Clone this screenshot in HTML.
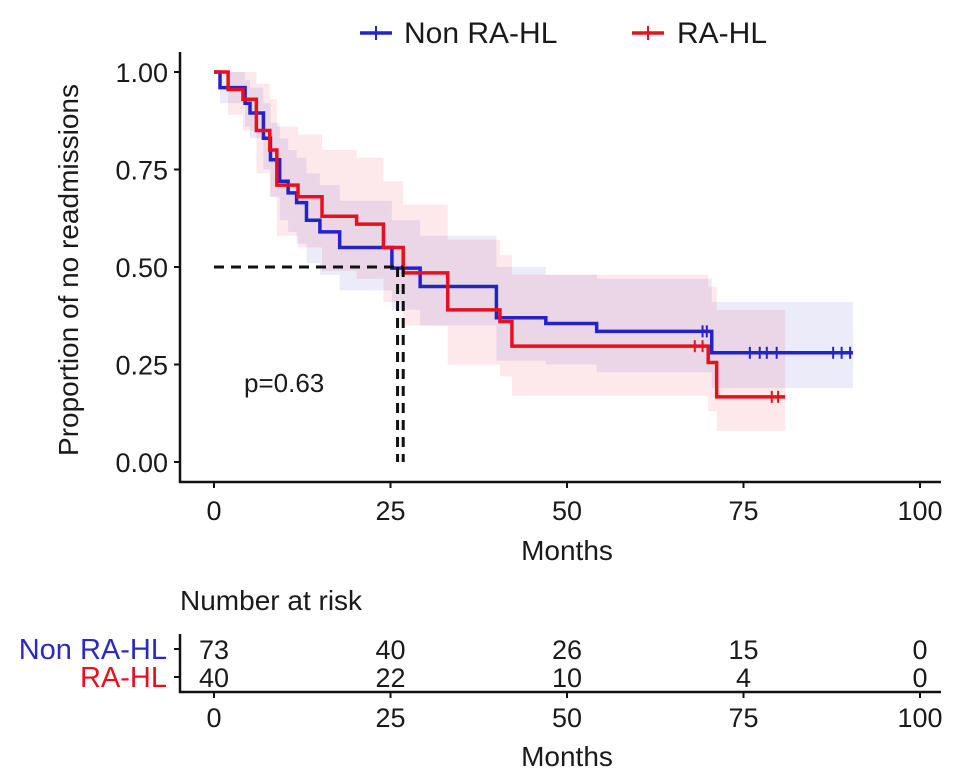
<!DOCTYPE html>
<html><head><meta charset="utf-8"><style>
body{margin:0;background:#fff}
svg{display:block;font-family:"Liberation Sans",sans-serif}
</style></head><body>
<svg id="chart" width="969" height="782" viewBox="0 0 969 782" xmlns="http://www.w3.org/2000/svg">
<g id="bands"></g>
<g id="curves"></g>
<g id="axes"></g>
<g>
 <g>
  <line x1="360" y1="33" x2="392" y2="33" stroke="#2323c8" stroke-width="3.5"/><line x1="376" y1="26" x2="376" y2="40" stroke="#2323c8" stroke-width="2"/>
  <text x="404" y="43" font-size="30" fill="#1a1a1a">Non RA-HL</text></g>
 <g>
  <line x1="632" y1="33" x2="664" y2="33" stroke="#e8101e" stroke-width="3.5"/><line x1="648" y1="26" x2="648" y2="40" stroke="#e8101e" stroke-width="2"/>
  <text x="677" y="43" font-size="30" fill="#1a1a1a">RA-HL</text></g>
</g>
<text x="244" y="392" font-size="26" fill="#1a1a1a">p=0.63</text>
<text transform="translate(78,270) rotate(-90)" text-anchor="middle" font-size="28" fill="#1a1a1a">Proportion of no readmissions</text>
<text x="567" y="560" text-anchor="middle" font-size="28" fill="#1a1a1a">Months</text>
<text x="180" y="610" font-size="28" fill="#1a1a1a">Number at risk</text>
<text x="167" y="659" text-anchor="end" font-size="29" fill="#2a2ac0">Non RA-HL</text>
<text x="167" y="687" text-anchor="end" font-size="29" fill="#e8101e">RA-HL</text>
<g id="risk"></g>
<text x="567" y="766" text-anchor="middle" font-size="28" fill="#1a1a1a">Months</text>
</svg>
<script>
const xTicks=[0,25,50,75,100];
const yTicks=[0,0.25,0.5,0.75,1];
const yTickLabels=["0.00","0.25","0.50","0.75","1.00"];
const blueT=[0,0.85,4.4,5.1,7,8,9.3,10.5,11.7,13.1,15,17.8,25.2,29.2,40,47,54.2,70.5];
const blueS=[1,.96,.92,.895,.83,.775,.72,.69,.665,.62,.59,.55,.497,.45,.37,.355,.335,.28];
const blueLo=[1,.92,.86,.83,.75,.68,.62,.59,.56,.51,.48,.44,.39,.35,.26,.25,.23,.19];
const blueHi=[1,1,.98,.96,.92,.87,.83,.80,.78,.74,.71,.67,.62,.58,.50,.48,.47,.41];
const blueEnd=90.5;
const blueCens=[69.2,69.8,75.9,77.3,78.3,79.7,87.7,88.9,90.1];
const redT=[0,2,4.1,6,7.9,8.9,11.9,15.3,20.2,24,26.8,33.1,40.5,42.2,70,71.2];
const redS=[1,.955,.93,.85,.80,.71,.68,.63,.61,.55,.485,.39,.36,.297,.255,.167];
const redLo=[1,.89,.85,.74,.68,.58,.55,.49,.47,.41,.35,.25,.22,.17,.13,.08];
const redHi=[1,1,1,.97,.93,.86,.84,.80,.78,.72,.66,.57,.53,.48,.45,.39];
const redEnd=80.9;
const redCens=[68.1,69.2,79,79.9];
const medians=[26.0,26.8];
const riskBlue=[73,40,26,15,0];
const riskRed=[40,22,10,4,0];

const NS="http://www.w3.org/2000/svg";
const X=t=>214+t*7.06;
const Y=s=>462-s*390;
function el(parent,tag,attrs){const e=document.createElementNS(NS,tag);for(const k in attrs)e.setAttribute(k,attrs[k]);parent.appendChild(e);return e;}
const bands=document.getElementById('bands'),curves=document.getElementById('curves'),axes=document.getElementById('axes'),risk=document.getElementById('risk');

function band(T,lo,hi,end,color,name){
  let up="",dn="";
  for(let i=0;i<T.length;i++){const t1=i+1<T.length?T[i+1]:end;
    up+=(i?"L":"M")+X(T[i])+","+Y(hi[i])+"L"+X(t1)+","+Y(hi[i]);}
  for(let i=T.length-1;i>=0;i--){const t1=i+1<T.length?T[i+1]:end;
    dn+="L"+X(t1)+","+Y(lo[i])+"L"+X(T[i])+","+Y(lo[i]);}
  const p=el(bands,'path',{d:up+dn+"Z",fill:color,'fill-opacity':0.09});
  
  
}
band(blueT,blueLo,blueHi,blueEnd,'#2323c8','band-non-ra-hl');
band(redT,redLo,redHi,redEnd,'#e8101e','band-ra-hl');

function curve(T,S,end,cens,color,name){
  let d="M"+X(T[0])+","+Y(S[0]);
  for(let i=1;i<T.length;i++){d+="L"+X(T[i])+","+Y(S[i-1])+"L"+X(T[i])+","+Y(S[i]);}
  d+="L"+X(end)+","+Y(S[S.length-1]);
  const p=el(curves,'path',{d:d,fill:'none',stroke:color,'stroke-width':3.5});
  
  
  cens.forEach(c=>{let k=0;for(let i=0;i<T.length;i++)if(T[i]<=c)k=i;
    const m=el(curves,'line',{x1:X(c),x2:X(c),y1:Y(S[k])-6,y2:Y(S[k])+6,stroke:color,'stroke-width':2});
    
    });
}
curve(blueT,blueS,blueEnd,blueCens,'#2323c8','curve-non-ra-hl');
curve(redT,redS,redEnd,redCens,'#e8101e','curve-ra-hl');

const mh=el(curves,'line',{x1:X(0),x2:X(medians[1]),y1:Y(0.5),y2:Y(0.5),stroke:'#111','stroke-width':3,'stroke-dasharray':'10,7'});


medians.forEach(m=>{const v=el(curves,'line',{x1:X(m),x2:X(m),y1:Y(0.5),y2:Y(0),stroke:'#111','stroke-width':3,'stroke-dasharray':'10,7'});
  
  });

el(axes,'line',{x1:180,x2:180,y1:52,y2:483,stroke:'#111','stroke-width':2.5});
el(axes,'line',{x1:179,x2:941,y1:482,y2:482,stroke:'#111','stroke-width':2.5});
yTicks.forEach((v,i)=>{el(axes,'line',{x1:174,x2:180,y1:Y(v),y2:Y(v),stroke:'#111','stroke-width':2});
  const t=el(axes,'text',{x:168,y:Y(v)+10,'text-anchor':'end','font-size':27,fill:'#1a1a1a'});t.textContent=yTickLabels[i];
  
  });
xTicks.forEach(v=>{el(axes,'line',{x1:X(v),x2:X(v),y1:482,y2:488,stroke:'#111','stroke-width':2});
  const t=el(axes,'text',{x:X(v),y:520,'text-anchor':'middle','font-size':27,fill:'#1a1a1a'});t.textContent=v;
  
  });

el(risk,'line',{x1:180,x2:180,y1:634,y2:693,stroke:'#111','stroke-width':2.5});
el(risk,'line',{x1:179,x2:941,y1:692,y2:692,stroke:'#111','stroke-width':2.5});
[649,677].forEach(y=>el(risk,'line',{x1:174,x2:180,y1:y,y2:y,stroke:'#111','stroke-width':2}));
xTicks.forEach((v,i)=>{el(risk,'line',{x1:X(v),x2:X(v),y1:692,y2:698,stroke:'#111','stroke-width':2});
  const t=el(risk,'text',{x:X(v),y:727,'text-anchor':'middle','font-size':27,fill:'#1a1a1a'});t.textContent=v;
  
  
  const a=el(risk,'text',{x:X(v),y:659,'text-anchor':'middle','font-size':27,fill:'#1a1a1a'});a.textContent=riskBlue[i];
  
  
  const b=el(risk,'text',{x:X(v),y:687,'text-anchor':'middle','font-size':27,fill:'#1a1a1a'});b.textContent=riskRed[i];
  
  });
</script>
</body></html>
